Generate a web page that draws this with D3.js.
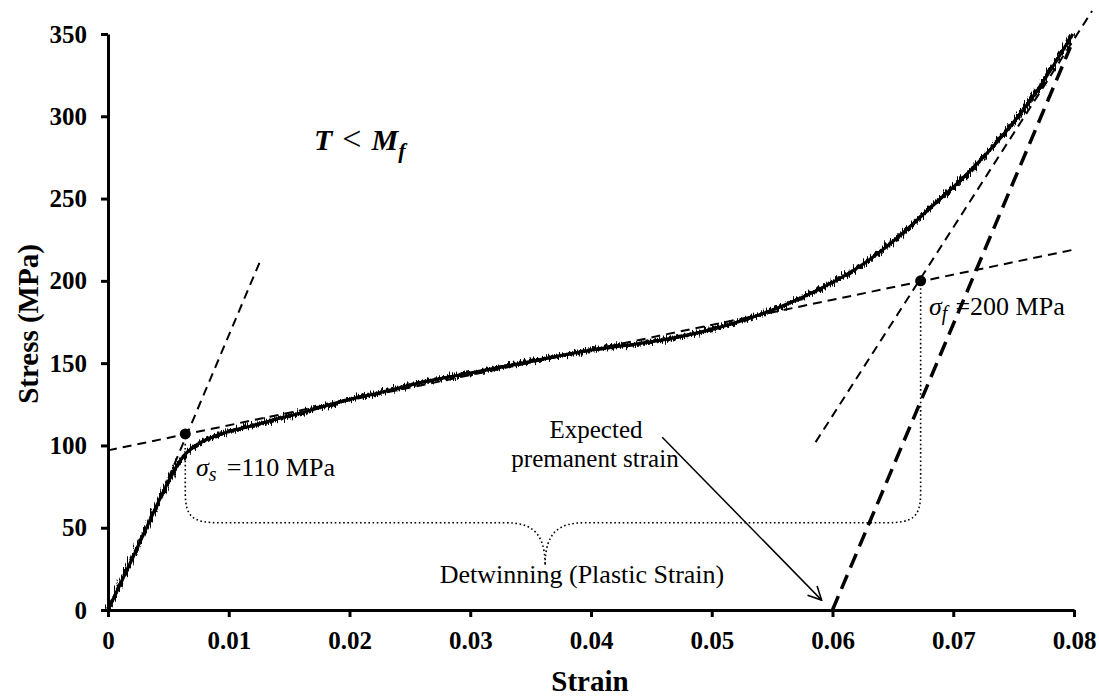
<!DOCTYPE html>
<html>
<head>
<meta charset="utf-8">
<script src="https://cdn.jsdelivr.net/npm/d3@7"></script>
<style>
  body { margin: 0; background: #fff; }
  text { font-family: "Liberation Serif", "Times New Roman", serif; fill: #000; }
  .tick text { font-size: 25px; font-weight: bold; }
  .axis path, .axis line { stroke: #000; stroke-width: 3; }
</style>
</head>
<body>
<script>
// measured stress-strain curve (strain, MPa)
var strain = [0, 0.001, 0.002, 0.003, 0.0035, 0.004, 0.005, 0.0055, 0.006, 0.0065, 0.007, 0.0076, 0.008, 0.009,
  0.010, 0.0117, 0.0142, 0.0159, 0.018, 0.020, 0.0225, 0.0258, 0.030, 0.0357, 0.0374, 0.040, 0.045, 0.0473,
  0.050, 0.053, 0.0556, 0.0572, 0.0588, 0.0627, 0.0655, 0.0682, 0.071, 0.0737, 0.0768, 0.0799];
var stress = [0, 15.5, 31, 47, 55, 63, 78, 85, 91, 95.5, 98.5, 101.5, 103, 106,
  108.5, 111.5, 116.5, 119.6, 124, 128, 132, 138, 144, 152, 154.5, 158, 163, 166,
  170.5, 177, 184, 189, 194.5, 211, 227, 245, 264, 285, 314, 350];

// construction lines [strain, stress] pairs
var elasticLine = [[0.0050, 80], [0.0126, 212]];
var plateauLine = [[0, 97], [0.08, 219]];
var hardenLine = [[0.0586, 102], [0.0815, 364]];
var unloadLine = [[0.060, 0], [0.0797, 342]];
var arrowLine = [[0.0459, 105], [0.0591, 6]];
var startPoint = [0.0064, 107];
var finishPoint = [0.0673, 200];
var braceLevel = 53, braceTip = 27, braceMid = 0.0362;

var xTicks = [0, 0.01, 0.02, 0.03, 0.04, 0.05, 0.06, 0.07, 0.08];
var yTicks = [0, 50, 100, 150, 200, 250, 300, 350];

var W = 1099, H = 696;
var svg = d3.select("body").append("svg").attr("width", W).attr("height", H);

var defs = svg.append("defs");
// rough look of the noisy measurement: fast vertical jitter
var f = defs.append("filter").attr("id", "rough").attr("filterUnits", "userSpaceOnUse")
  .attr("x", 90).attr("y", 20).attr("width", 1000).attr("height", 610);
f.append("feTurbulence").attr("type", "fractalNoise").attr("baseFrequency", "1.1 0.06")
  .attr("numOctaves", 2).attr("seed", 7).attr("result", "noise");
f.append("feDisplacementMap").attr("in", "SourceGraphic").attr("in2", "noise")
  .attr("scale", 11).attr("xChannelSelector", "B").attr("yChannelSelector", "G");

defs.append("marker").attr("id", "head")
  .attr("viewBox", "0 0 12 12").attr("refX", 11).attr("refY", 6)
  .attr("markerWidth", 16).attr("markerHeight", 16).attr("markerUnits", "userSpaceOnUse")
  .attr("orient", "auto")
  .append("path").attr("d", "M1,1 L11,6 L1,11")
  .attr("fill", "none").attr("stroke", "#000").attr("stroke-width", 1.2);

var x = d3.scaleLinear().domain([0, 0.08]).range([108, 1074]);
var y = d3.scaleLinear().domain([0, 350]).range([610, 34]);

// axes
svg.append("g").attr("class", "axis")
  .attr("transform", "translate(0," + y(0) + ")")
  .call(d3.axisBottom(x).tickValues(xTicks).tickSize(7).tickSizeOuter(0).tickPadding(14)
    .tickFormat(function(d) { return d === 0 ? "0" : d3.format(".2f")(d); }));
svg.append("g").attr("class", "axis")
  .attr("transform", "translate(" + x(0) + ",0)")
  .call(d3.axisLeft(y).tickValues(yTicks).tickSize(7).tickSizeOuter(0).tickPadding(14));

svg.append("text").attr("x", 590).attr("y", 691).attr("text-anchor", "middle")
  .style("font-size", "29px").style("font-weight", "bold").text("Strain");
svg.append("text").attr("transform", "translate(38,324) rotate(-90)").attr("text-anchor", "middle")
  .style("font-size", "29px").style("font-weight", "bold").text("Stress (MPa)");

var line = d3.line().x(function(d) { return x(d[0]); }).y(function(d) { return y(d[1]); });
var smooth = d3.line().curve(d3.curveMonotoneX)
  .x(function(d) { return x(d[0]); }).y(function(d) { return y(d[1]); });

function guide(pts, w, dash) {
  svg.append("path").attr("d", line(pts)).attr("fill", "none")
    .attr("stroke", "#000").attr("stroke-width", w).attr("stroke-dasharray", dash);
}
guide(plateauLine, 2, "9,6");
guide(elasticLine, 2, "9,6");
guide(hardenLine, 2, "9,6");

// the curve
var curve = d3.zip(strain, stress);
svg.append("path").attr("d", smooth(curve)).attr("fill", "none")
  .attr("stroke", "#000").attr("stroke-width", 4).attr("filter", "url(#rough)");
svg.append("path").attr("d", smooth(curve)).attr("fill", "none")
  .attr("stroke", "#000").attr("stroke-width", 3.2);

guide(unloadLine, 3.5, "15,8");

// dotted brace from sigma_s to sigma_f
var p = d3.path();
var xs = x(startPoint[0]), xf = x(finishPoint[0]), yb = y(braceLevel), xm = x(braceMid);
p.moveTo(xs, y(startPoint[1] - 6));
p.lineTo(xs, yb - 30);
p.bezierCurveTo(xs, yb - 5, xs + 8, yb, xs + 35, yb);
p.lineTo(xm - 40, yb);
p.bezierCurveTo(xm - 15, yb, xm, yb + 8, xm, y(braceTip));
p.bezierCurveTo(xm, yb + 8, xm + 15, yb, xm + 40, yb);
p.lineTo(xf - 35, yb);
p.bezierCurveTo(xf - 8, yb, xf, yb - 5, xf, yb - 30);
p.lineTo(xf, y(finishPoint[1] - 3));
svg.append("path").attr("d", p.toString()).attr("fill", "none")
  .attr("stroke", "#000").attr("stroke-width", 1.6)
  .attr("stroke-dasharray", "1.6,2.6");

// points
svg.selectAll("circle.pt").data([startPoint, finishPoint]).enter().append("circle")
  .attr("class", "pt").attr("cx", function(d) { return x(d[0]); })
  .attr("cy", function(d) { return y(d[1]); }).attr("r", 5.5).attr("fill", "#000");

// arrow to expected permanent strain
svg.append("path").attr("d", line(arrowLine)).attr("fill", "none")
  .attr("stroke", "#000").attr("stroke-width", 1.5).attr("marker-end", "url(#head)");

// annotations
var t1 = svg.append("text").attr("x", 314).attr("y", 150).style("font-size", "30px").style("font-weight", "bold");
t1.append("tspan").style("font-style", "italic").text("T");
t1.append("tspan").attr("dx", 10).style("font-weight", "normal").style("font-size", "34px").text("<");
t1.append("tspan").attr("dx", 10).style("font-style", "italic").text("M");
t1.append("tspan").style("font-style", "italic").style("font-size", "22px").attr("dy", 8).text("f");

var s1 = svg.append("text").attr("x", 196).attr("y", 476).style("font-size", "26px");
s1.append("tspan").style("font-style", "italic").text("σ");
s1.append("tspan").style("font-style", "italic").style("font-size", "20px").attr("dy", 5).text("s");
s1.append("tspan").attr("dy", -5).attr("dx", 10).text("=110 MPa");

var s2 = svg.append("text").attr("x", 929).attr("y", 315).style("font-size", "26px");
s2.append("tspan").style("font-style", "italic").text("σ");
s2.append("tspan").style("font-style", "italic").style("font-size", "20px").attr("dy", 5).text("f");
s2.append("tspan").attr("dy", -5).attr("dx", 8).text("=200 MPa");

svg.append("text").attr("x", 596).attr("y", 438).attr("text-anchor", "middle")
  .style("font-size", "25px").text("Expected");
svg.append("text").attr("x", 595).attr("y", 467).attr("text-anchor", "middle")
  .style("font-size", "25px").text("premanent strain");
svg.append("text").attr("x", 582).attr("y", 583).attr("text-anchor", "middle")
  .style("font-size", "26px").text("Detwinning (Plastic Strain)");
</script>
</body>
</html>
